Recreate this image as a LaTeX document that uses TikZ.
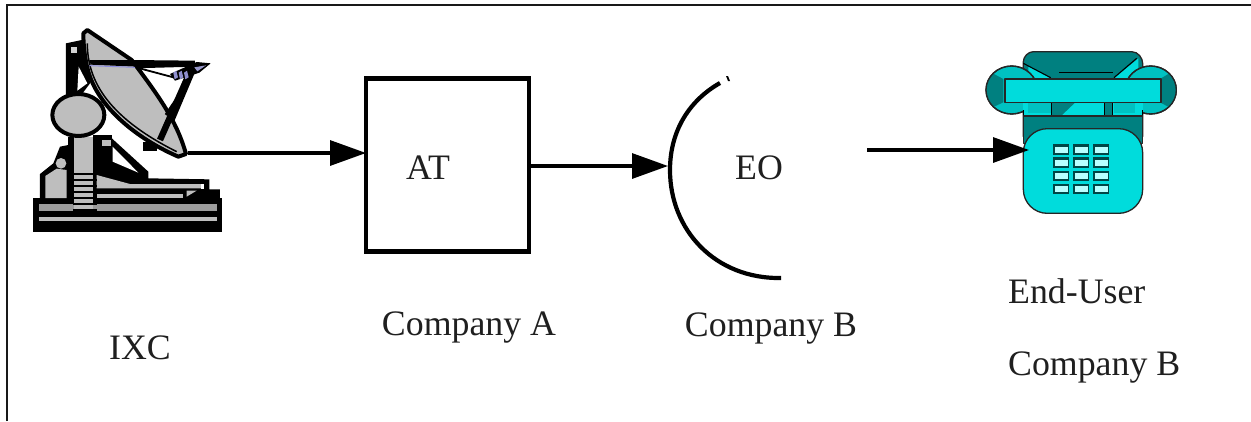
\documentclass[tikz,border=0pt]{standalone}
\usepackage{fontspec}
\setmainfont{Liberation Serif}
\usetikzlibrary{arrows.meta}
\definecolor{dishgrey}{HTML}{BEBEBE}
\definecolor{stripgrey}{HTML}{9C9C9C}
\definecolor{teal1}{HTML}{008080}
\definecolor{cyan1}{HTML}{00DCDC}
\definecolor{cyan2}{HTML}{00C2C2}
\definecolor{keyc}{HTML}{B8FFFF}
\tikzset{
 conn/.style={line width=3.2pt,-{Triangle[length=36pt,width=25pt]}},
 lbl/.style={font=\fontsize{35.8}{38}\selectfont,inner sep=0pt,text=black!88},
 ink/.style={draw=black,line width=4pt,line join=round},
 pline/.style={draw=black!85,line width=1.3pt,line join=round},
}
\begin{document}
\begin{tikzpicture}[x=1pt,y=-1pt]
\useasboundingbox (0,0) rectangle (1251,421);
\fill[white] (0,0) rectangle (1251,421);
\draw[line width=2pt,black!90] (7,421) -- (7,5) -- (1251,5);
% ---- dish
\begin{scope}[scale=1/3]
 \fill[black] (100,595) rectangle (665,695);
 \fill[stripgrey] (118,611) rectangle (650,633);
 \fill[dishgrey] (118,650) rectangle (650,662);
 % platform
 \fill[black] (120,595) -- (120,522) -- (160,490) -- (180,440) -- (330,410) -- (445,515) -- (445,535) -- (628,538) -- (628,568) -- (660,568) -- (660,600) -- cycle;
 \fill[dishgrey] (136,594) -- (136,528) -- (170,506) -- (200,510) -- (200,594) -- cycle;
 \fill[dishgrey] (290,525) -- (390,552) -- (612,552) -- (612,565) -- (290,565) -- cycle;
 \fill[dishgrey] (290,582) -- (550,582) -- (550,594) -- (290,594) -- cycle;
 \fill[dishgrey] (560,572) -- (590,572) -- (560,590) -- cycle;
 \fill[white] (603,553) rectangle (611,568);
 \fill[white] (338,440) -- (415,518) -- (338,485) -- cycle;
 \fill[dishgrey] (183,490) circle (16);
 % column
 \fill[dishgrey] (222,410) rectangle (280,530);
 \fill[white] (195,410) rectangle (205,435);
 \fill[black] (205,410) rectangle (222,530);
 \fill[black] (280,405) rectangle (335,520);
 \fill[dishgrey] (305,420) rectangle (332,438);
 \fill[dishgrey] (222,520) rectangle (280,630);
 \foreach \yy in {520,538,556,574,592,610,628}
   \fill[black] (218,\yy) rectangle (290,\yy+6);
 % tower
 \fill[black] (198,130) -- (255,118) -- (270,250) -- (240,290) -- (198,290) -- cycle;
 \fill[dishgrey!70] (214,140) rectangle (232,158);
 \fill[white] (236,200) -- (262,250) -- (232,272) -- cycle;
 % ball
 \draw[ink,fill=dishgrey] (235,345) ellipse (78 and 63);
 % dish arms
 \fill[black] (390,180) -- (585,182) -- (585,200) -- (400,205) -- cycle;
 \fill[black] (475,415) -- (565,212) -- (590,205) -- (497,425) -- cycle;
 \draw[black,line width=1.8pt] (400,200) -- (520,232);
 \fill[black] (430,425) rectangle (472,452);
 % dish
 \draw[ink,fill=dishgrey] (262,90) -- (395,180) .. controls (470,280) and (530,360) .. (558,462) -- (535,470)
   .. controls (430,425) and (300,335) .. (265,215) .. controls (255,180) and (250,135) .. (250,100) -- cycle;
 \draw[black,line width=1.5pt] (262,130) .. controls (262,230) and (310,345) .. (530,455);
 \fill[black] (268,180) -- (400,180) -- (412,200) -- (272,194) -- cycle;
 \draw[black,line width=6.4pt] (480,420) -- (575,205);
 \draw[black,line width=3pt] (498,345) -- (545,275);
 \draw[black!30!blue!45,line width=1pt] (268,197) -- (405,202);
 % feed
 \fill[black] (510,222) -- (590,186) -- (632,190) -- (598,218) -- (525,242) -- cycle;
 \fill[dishgrey!80!blue] (583,202) -- (618,196) -- (592,214) -- cycle;
 \foreach \xx in {520,536,552}
   \fill[dishgrey!75!blue] (\xx,218) -- (\xx+9,212) -- (\xx+14,232) -- (\xx+4,238) -- cycle;
\end{scope}
\coordinate (dishpt) at (188,153);
% ---- AT box
\node[draw=black,line width=4.4pt,minimum width=163pt,minimum height=173pt,inner sep=0pt,outer sep=0pt] (at) at (447.5,165) {};
\node[lbl] (attext) at (428,168) {AT};
% ---- EO arc
\draw[black,line width=4.2pt] (720,83) .. controls (690,100) and (670,130) .. (670,170) .. controls (670,230) and (715,279) .. (781,278);
\coordinate (arcpt) at (668,166);
\fill[black] (726,76) -- (728,76) -- (730,81) -- (728,81) -- cycle;
\node[lbl] (eotext) at (759,168) {EO};
% ---- phone
\begin{scope}[shift={(960,30)},scale=1/3]
 \draw[pline,fill=teal1] (190,320) -- (190,95) .. controls (190,80) and (205,65) .. (220,65) -- (515,65) .. controls (535,65) and (548,85) .. (548,100) -- (548,320) -- cycle;
 \fill[cyan1] (205,108) -- (272,145) -- (205,145) -- cycle;
 \fill[cyan1] (535,85) -- (462,145) -- (535,145) -- cycle;
 \draw[black,line width=1.1pt] (297,128) -- (460,128);
 \draw[black,line width=1.1pt] (190,100) -- (272,143);
 \draw[black,line width=1.1pt] (530,85) -- (462,143);
 % ears
 \draw[pline,fill=cyan2] (155,180) ellipse (77 and 72);
 \draw[pline,fill=cyan2] (572,180) ellipse (77 and 72);
 \begin{scope}
  \clip (155,180) ellipse (77 and 72);
  \fill[teal1] (130,147) -- (98,130) -- (60,120) -- (60,240) -- (98,232) -- (130,217) -- cycle;
 \end{scope}
 \begin{scope}
  \clip (572,180) ellipse (77 and 72);
  \fill[teal1] (600,147) -- (628,130) -- (660,120) -- (660,240) -- (628,232) -- (600,217) -- cycle;
 \end{scope}
 \draw[pline] (155,180) ellipse (77 and 72);
 \draw[pline] (572,180) ellipse (77 and 72);
 % under handset
 \fill[cyan1] (190,217) rectangle (548,258);
 \fill[cyan2] (205,218) -- (272,218) -- (272,250) -- (205,250) -- cycle;
 \fill[teal1] (276,218) -- (345,218) -- (305,256) -- (276,256) -- cycle;
 \fill[teal1] (433,218) rectangle (458,256);
 \fill[cyan2] (462,218) -- (525,218) -- (525,250) -- (462,250) -- cycle;
 \draw[black,line width=1.1pt] (274,218) -- (274,256) (433,218) -- (433,256) (458,218) -- (458,256) (190,240) -- (190,258) (548,240) -- (548,258);
 % handset bar
 \draw[pline,line width=1.6pt,fill=cyan1] (135,147) rectangle (603,217);
 % body
 \draw[pline,fill=teal1] (190,258) rectangle (548,340);
 \draw[pline,fill=cyan1,rounded corners=24pt] (190,296) -- (190,550) -- (548,550) -- (548,296) -- cycle;
 \foreach \kx in {280,340,400} \foreach \ky in {343,382,422,461}{
   \fill[black!45!teal1] (\kx,\ky) rectangle (\kx+47,\ky+31);
   \fill[keyc] (\kx+4,\ky+7) rectangle (\kx+43,\ky+25);
 }
\end{scope}
\coordinate (phonept) at (1029,150);
\coordinate (freestart) at (867,150);
% ---- connectors
\draw[conn] (dishpt) -- (dishpt -| at.west);
\draw[conn] (at.east |- arcpt) -- (arcpt);
\draw[conn] (freestart) -- (phonept);
% ---- labels
\node[lbl] (ixc) at (140,348) {IXC};
\node[lbl] (ca) at (469,328) {Company A};
\node[lbl] (cb) at (771,329) {Company B};
\node[lbl,anchor=west] (eu) at (1008,291) {End-User};
\node[lbl,anchor=west] (cb2) at (1008,368) {Company B};
\end{tikzpicture}
\end{document}
